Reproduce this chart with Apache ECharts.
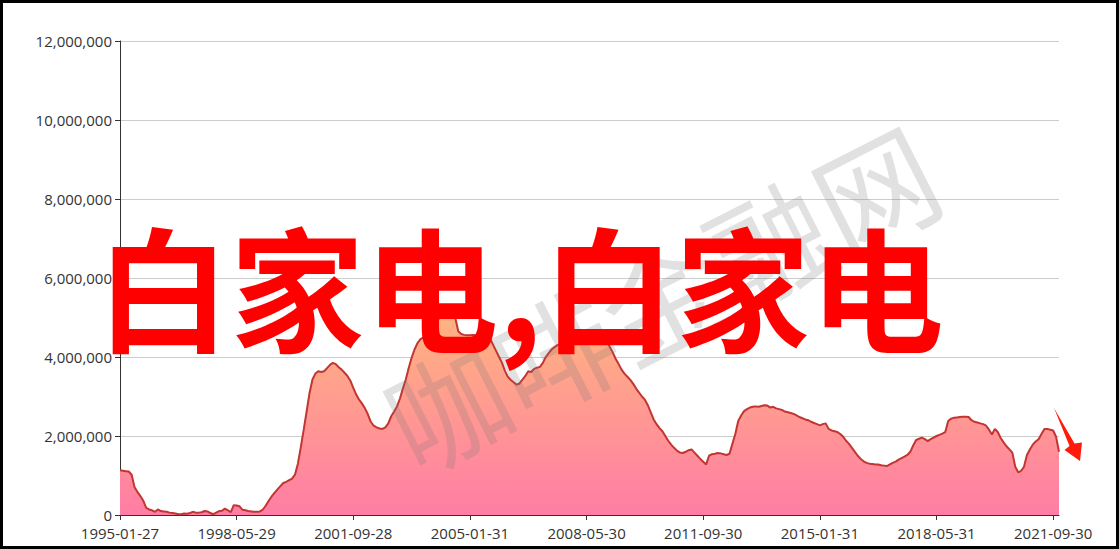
<!DOCTYPE html>
<html>
<head>
<meta charset="utf-8">
<script src="https://cdn.jsdelivr.net/npm/echarts@6/dist/echarts.min.js"></script>
<style>
html,body{margin:0;padding:0;background:#fff;}
#c{width:1119px;height:549px;}
</style>
</head>
<body>
<div id="c"></div>
<script>
// Monthly values, 1995-01 .. 2021-11
const startYear = 1995;
const values = [
  1130000,1120000,1110000,1100000,1020000,700000,580000,480000,360000,180000,140000,120000,
  80000,140000,100000,90000,80000,60000,50000,40000,20000,20000,40000,30000,
  50000,80000,60000,60000,70000,100000,90000,50000,20000,60000,100000,110000,
  160000,120000,70000,250000,240000,220000,130000,120000,100000,90000,80000,80000,
  90000,140000,240000,360000,470000,560000,650000,730000,810000,840000,880000,920000,
  1020000,1300000,1720000,2160000,2620000,3090000,3430000,3580000,3640000,3620000,3640000,3720000,
  3800000,3850000,3820000,3740000,3680000,3600000,3520000,3400000,3220000,3050000,2920000,2820000,
  2700000,2550000,2360000,2260000,2220000,2190000,2180000,2220000,2320000,2500000,2620000,2750000,
  2950000,3200000,3430000,3720000,3980000,4190000,4350000,4450000,4490000,4600000,4720000,4820000,
  4870000,4950000,5000000,5030000,5060000,5080000,5050000,4980000,4650000,4580000,4560000,4550000,
  4550000,4560000,4550000,4580000,4600000,4620000,4610000,4450000,4300000,4150000,4000000,3850000,
  3650000,3500000,3420000,3360000,3300000,3330000,3430000,3520000,3640000,3620000,3700000,3730000,
  3750000,3850000,4000000,4100000,4190000,4250000,4300000,4330000,4360000,4380000,4400000,4350000,
  4380000,4340000,4370000,4360000,4420000,4450000,4480000,4500000,4480000,4450000,4420000,4400000,
  4250000,4110000,3950000,3820000,3680000,3580000,3500000,3420000,3320000,3200000,3100000,3000000,
  2920000,2780000,2600000,2420000,2300000,2200000,2120000,2000000,1880000,1780000,1700000,1630000,
  1580000,1570000,1600000,1640000,1660000,1580000,1500000,1420000,1350000,1280000,1500000,1540000,
  1550000,1570000,1560000,1540000,1520000,1550000,1800000,2050000,2380000,2520000,2630000,2680000,
  2720000,2740000,2750000,2740000,2760000,2780000,2770000,2720000,2740000,2700000,2680000,2660000,
  2620000,2600000,2580000,2560000,2520000,2480000,2450000,2420000,2400000,2360000,2330000,2300000,
  2270000,2300000,2320000,2180000,2140000,2120000,2100000,2050000,1980000,1880000,1800000,1700000,
  1600000,1500000,1420000,1360000,1320000,1300000,1290000,1280000,1280000,1260000,1250000,1240000,
  1280000,1320000,1350000,1400000,1440000,1480000,1520000,1600000,1760000,1900000,1930000,1960000,
  1920000,1870000,1920000,1960000,2000000,2030000,2060000,2100000,2380000,2440000,2460000,2470000,
  2480000,2490000,2490000,2480000,2400000,2360000,2340000,2320000,2300000,2260000,2160000,2040000,
  2180000,2100000,1950000,1840000,1740000,1660000,1580000,1220000,1080000,1120000,1220000,1520000,
  1660000,1780000,1860000,1920000,2050000,2180000,2180000,2160000,2140000,1980000,1600000
];
const tickLabels = ['1995-01-27','1998-05-29','2001-09-28','2005-01-31','2008-05-30','2011-09-30','2015-01-31','2018-05-31','2021-09-30'];
const yTicks = [0, 2000000, 4000000, 6000000, 8000000, 10000000, 12000000];
const overlayText = '白家电,白家电';
const watermarkText = '咖啡金融网';

const categories = values.map(function (v, i) {
  const y = startYear + Math.floor(i / 12);
  const m = (i % 12) + 1;
  return y + '-' + (m < 10 ? '0' + m : m);
});

const chart = echarts.init(document.getElementById('c'), null, {renderer: 'svg'});
const FONT = '"Open Sans","Noto Sans",sans-serif';
chart.setOption({
  animation: false,
  backgroundColor: '#fff',
  grid: {left: 120, right: 60, top: 41, bottom: 34, containLabel: false},
  xAxis: {
    type: 'category',
    boundaryGap: false,
    data: categories,
    axisLine: {show: true, lineStyle: {color: '#333', width: 1}},
    axisTick: {show: true, interval: 39, length: 5, lineStyle: {color: '#333'}},
    axisLabel: {
      show: true, interval: 39, color: '#333', fontSize: 15, margin: 10,
      fontFamily: FONT,
      formatter: function (v, idx) { return tickLabels[Math.round(idx / 40)] || v; }
    },
    splitLine: {show: false}
  },
  yAxis: {
    type: 'value',
    min: yTicks[0], max: yTicks[yTicks.length - 1], interval: yTicks[1] - yTicks[0],
    axisLine: {show: true, lineStyle: {color: '#333', width: 1}},
    axisTick: {show: true, length: 5, lineStyle: {color: '#333'}},
    axisLabel: {
      color: '#333', fontSize: 15, margin: 8, fontFamily: FONT,
      formatter: function (v) { return String(v).replace(/\B(?=(\d{3})+(?!\d))/g, ','); }
    },
    splitLine: {show: true, lineStyle: {color: '#ccc', width: 1}}
  },
  series: [{
    type: 'line',
    data: values,
    smooth: false,
    showSymbol: false,
    symbol: 'none',
    lineStyle: {color: '#c23531', width: 2},
    itemStyle: {color: '#c23531'},
    areaStyle: {
      opacity: 1,
      color: new echarts.graphic.LinearGradient(0, 0, 0, 1, [
        {offset: 0, color: 'rgb(255,180,128)'},
        {offset: 1, color: 'rgb(255,125,165)'}
      ])
    },
    z: 2
  }],
  graphic: [
    {
      type: 'text', z: 50, silent: true,
      x: 660, y: 295, rotation: 27 * Math.PI / 180,
      style: {
        text: watermarkText, fontSize: 120, fontWeight: 'normal',
        fontFamily: '"Noto Sans CJK SC",sans-serif',
        fill: 'rgba(120,120,120,0.22)',
        textAlign: 'center', textVerticalAlign: 'middle'
      }
    },
    {
      type: 'text', z: 100, silent: true,
      x: 520, y: 284,
      style: {
        text: overlayText, fontSize: 134, fontWeight: 'bold',
        fontFamily: '"Noto Sans CJK SC",sans-serif',
        fill: '#ff0000',
        textAlign: 'center', textVerticalAlign: 'middle'
      }
    },
    {
      type: 'polygon', z: 100, silent: true,
      shape: {points: [[1054,408],[1074.5,443.5],[1082,442.5],[1080,461],[1064.5,450],[1069.5,446]]},
      style: {fill: '#ff1a0a'}
    },
    {
      type: 'rect', z: 200, silent: true,
      shape: {x: 1.5, y: 1.5, width: 1116, height: 546},
      style: {fill: 'none', stroke: '#000', lineWidth: 3}
    }
  ]
});
</script>
</body>
</html>
